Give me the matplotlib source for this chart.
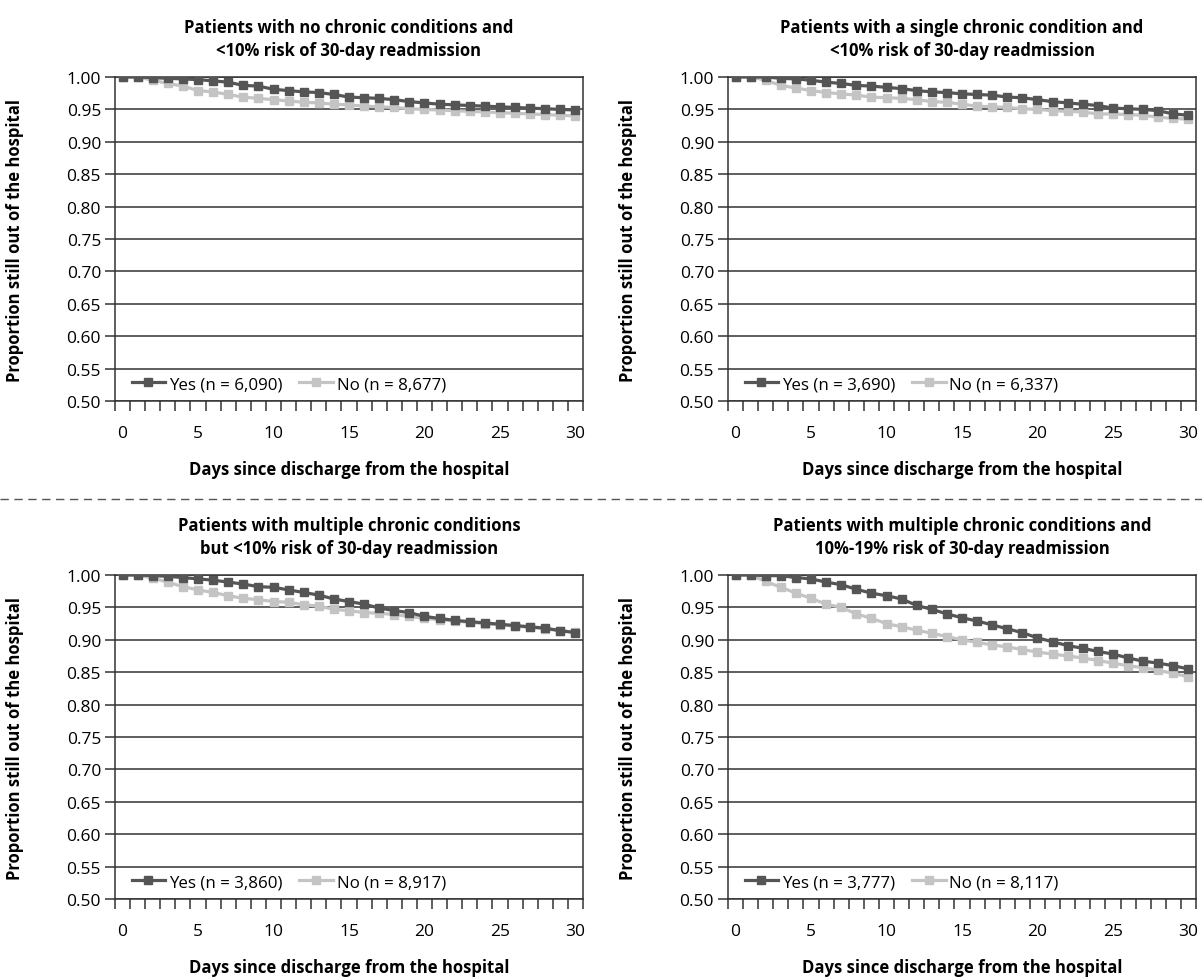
import numpy as np
import matplotlib
matplotlib.use("Agg")
import matplotlib.pyplot as plt
from matplotlib.lines import Line2D

plt.rcParams['font.family'] = ['Open Sans', 'DejaVu Sans']

days = list(range(31))

titles = [
    "Patients with no chronic conditions and\n<10% risk of 30-day readmission",
    "Patients with a single chronic condition and\n<10% risk of 30-day readmission",
    "Patients with multiple chronic conditions\nbut <10% risk of 30-day readmission",
    "Patients with multiple chronic conditions and\n10%-19% risk of 30-day readmission",
]

yes_labels = ["Yes (n = 6,090)", "Yes (n = 3,690)", "Yes (n = 3,860)", "Yes (n = 3,777)"]
no_labels = ["No (n = 8,677)", "No (n = 6,337)", "No (n = 8,917)", "No (n = 8,117)"]

# panel 1: no chronic conditions
yes_1 = [1.000, 1.000, 0.999, 0.998, 0.997, 0.996, 0.994, 0.992, 0.987, 0.986, 0.981,
         0.979, 0.977, 0.976, 0.973, 0.969, 0.968, 0.967, 0.965, 0.962, 0.960,
         0.958, 0.957, 0.956, 0.955, 0.954, 0.953, 0.952, 0.951, 0.950, 0.949]
no_1 = [1.000, 1.000, 0.995, 0.990, 0.986, 0.979, 0.977, 0.973, 0.969, 0.967, 0.965,
        0.963, 0.961, 0.960, 0.958, 0.957, 0.955, 0.954, 0.953, 0.951, 0.950,
        0.949, 0.948, 0.947, 0.946, 0.945, 0.944, 0.943, 0.942, 0.941, 0.940]

# panel 2: single chronic condition
yes_2 = [1.000, 1.000, 1.000, 0.998, 0.997, 0.995, 0.992, 0.990, 0.987, 0.986, 0.984,
         0.982, 0.979, 0.977, 0.976, 0.974, 0.973, 0.972, 0.969, 0.968, 0.965,
         0.962, 0.960, 0.958, 0.956, 0.952, 0.951, 0.950, 0.948, 0.943, 0.941]
no_2 = [1.000, 1.000, 0.995, 0.987, 0.983, 0.979, 0.976, 0.974, 0.972, 0.969, 0.968,
        0.967, 0.965, 0.962, 0.961, 0.958, 0.955, 0.954, 0.953, 0.951, 0.950,
        0.948, 0.947, 0.946, 0.943, 0.943, 0.942, 0.941, 0.938, 0.936, 0.935]

# panel 3: multiple chronic conditions, <10% risk
yes_3 = [1.000, 1.000, 0.999, 0.998, 0.996, 0.994, 0.992, 0.989, 0.986, 0.982, 0.981,
         0.977, 0.973, 0.969, 0.963, 0.959, 0.955, 0.949, 0.945, 0.942, 0.936,
         0.933, 0.930, 0.928, 0.926, 0.924, 0.922, 0.920, 0.918, 0.914, 0.911]
no_3 = [1.000, 1.000, 0.995, 0.989, 0.982, 0.977, 0.973, 0.968, 0.964, 0.962, 0.959,
        0.958, 0.954, 0.952, 0.947, 0.945, 0.942, 0.941, 0.939, 0.936, 0.933,
        0.931, 0.929, 0.927, 0.925, 0.923, 0.921, 0.919, 0.917, 0.914, 0.912]

# panel 4: multiple chronic conditions, 10%-19% risk
yes_4 = [1.000, 1.000, 0.999, 0.999, 0.996, 0.994, 0.989, 0.985, 0.978, 0.972, 0.968,
         0.963, 0.953, 0.947, 0.940, 0.934, 0.929, 0.923, 0.917, 0.911, 0.903,
         0.897, 0.891, 0.887, 0.882, 0.878, 0.872, 0.867, 0.864, 0.860, 0.855]
no_4 = [1.000, 1.000, 0.990, 0.981, 0.972, 0.964, 0.955, 0.950, 0.940, 0.933, 0.925,
        0.920, 0.915, 0.910, 0.905, 0.900, 0.896, 0.892, 0.889, 0.885, 0.881,
        0.878, 0.875, 0.872, 0.868, 0.864, 0.860, 0.857, 0.853, 0.848, 0.843]

yes_series = [yes_1, yes_2, yes_3, yes_4]
no_series = [no_1, no_2, no_3, no_4]

yes_color = "#555555"
no_color = "#c4c4c4"
grid_color = "#333333"

W, H = 1202, 978
fig = plt.figure(figsize=(W / 100, H / 100), dpi=100)

lefts = [115, 728, 115, 728]
tops = [78, 78, 576, 576]
aw, ah = 468, 324

for i in range(4):
    ax = fig.add_axes([lefts[i] / W, 1 - (tops[i] + ah) / H, aw / W, ah / H])
    ax.plot(days, yes_series[i], color=yes_color, lw=2.3, marker="s", ms=6.2,
            zorder=4)
    ax.plot(days, no_series[i], color=no_color, lw=2.3, marker="s", ms=6.2,
            zorder=3)

    ax.set_xlim(-0.5, 30.5)
    ax.set_ylim(0.5, 1.0)
    ax.set_yticks(np.arange(0.5, 1.001, 0.05))
    ax.set_yticklabels([f"{v:.2f}" for v in np.arange(0.5, 1.001, 0.05)])
    ax.set_xticks(range(0, 31, 5))
    ax.set_xticks(np.arange(-0.5, 31, 1), minor=True)
    ax.tick_params(axis="x", which="major", length=0, pad=17, labelsize=12.5)
    ax.tick_params(axis="x", which="minor", length=7, width=1.1,
                   direction="out", color=grid_color)
    ax.tick_params(axis="y", which="major", length=7, width=1.1, pad=3,
                   labelsize=12.5, color=grid_color)
    ax.grid(axis="y", color=grid_color, lw=1.1, zorder=0)
    ax.set_axisbelow(True)
    for s in ax.spines.values():
        s.set_color(grid_color)
        s.set_linewidth(1.1)

    ax.set_title(titles[i], fontsize=12, fontweight="bold", pad=16,
                 linespacing=1.35)
    ax.set_xlabel("Days since discharge from the hospital", fontsize=12,
                  fontweight="bold", labelpad=14)
    ax.set_ylabel("Proportion still out of the hospital", fontsize=12,
                  fontweight="bold")
    ax.yaxis.set_label_coords(-0.195, 0.5)

    handles = [Line2D([], [], color=yes_color, lw=2.3, marker="s", ms=6.2),
               Line2D([], [], color=no_color, lw=2.3, marker="s", ms=6.2)]
    ax.legend(handles, [yes_labels[i], no_labels[i]], loc="lower left",
              ncol=2, frameon=False, fontsize=12.2, handlelength=2.0,
              handletextpad=0.2, columnspacing=1.0,
              bbox_to_anchor=(0.01, -0.01), borderaxespad=0.3)

fig.add_artist(Line2D([0, 1], [1 - 500 / H, 1 - 500 / H], color="#555555",
                      lw=1.0, ls=(0, (6, 4))))

fig.savefig("out.png", dpi=100, facecolor="white")
